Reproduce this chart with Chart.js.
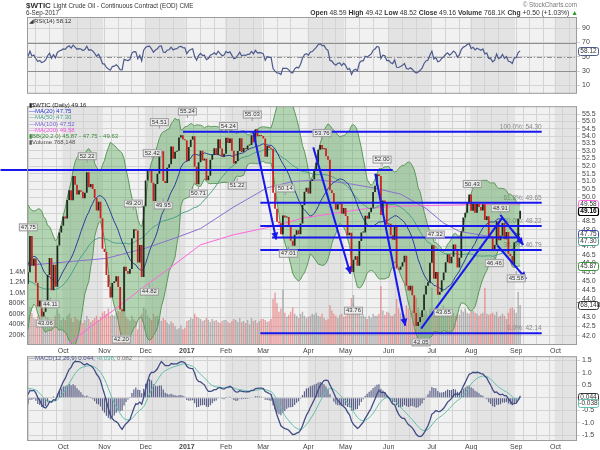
<!DOCTYPE html>
<html><head><meta charset="utf-8">
<script src="https://cdn.jsdelivr.net/npm/chart.js@4.4.0/dist/chart.umd.min.js"></script>
<style>
body{margin:0;background:#fff;width:600px;height:450px;overflow:hidden;position:relative;font-family:"Liberation Sans",Arial,sans-serif;}
canvas{position:absolute;left:0;}
.t{position:absolute;white-space:nowrap;line-height:1;color:#333;}
.lg{position:absolute;left:29px;white-space:nowrap;font-size:6px;line-height:1;}
b{font-weight:bold;}
</style></head><body>
<canvas id="rsi" width="600" height="100" style="top:0"></canvas>
<canvas id="main" width="600" height="260" style="top:100px"></canvas>
<canvas id="macd" width="600" height="100" style="top:350px"></canvas>

<div class="t" style="left:26px;top:2px;font-size:8px;"><b>$WTIC</b> <span style="font-size:6.3px">Light Crude Oil - Continuous Contract (EOD) CME</span></div>
<div class="t" style="left:26px;top:10px;font-size:6.3px;">6-Sep-2017</div>
<div class="t" style="right:23px;top:2px;font-size:6.3px;color:#777;">&#169; StockCharts.com</div>
<div class="t" style="right:22px;top:10px;font-size:6.8px;"><b>Open</b> 48.59 <b>High</b> 49.42 <b>Low</b> 48.52 <b>Close</b> 49.16 <b>Volume</b> 768.1K <b>Chg</b> +0.50 (+1.03%) <span style="color:#2a9a2a">&#9650;</span></div>

<div class="lg" style="top:18px;color:#333;">&#9698;RSI(14) 58.12</div>

<div class="lg" style="top:102px;color:#222;">&#9646;$WTIC (Daily) 49.16</div>
<div class="lg" style="top:108.2px;color:#2233cc;">&#8212;MA(20) 47.75</div>
<div class="lg" style="top:114.4px;color:#4aa08a;">&#8212;MA(50) 47.30</div>
<div class="lg" style="top:120.6px;color:#7a5fd0;">&#8212;MA(100) 47.52</div>
<div class="lg" style="top:126.8px;color:#ee55dd;">&#8212;MA(200) 49.58</div>
<div class="lg" style="top:133px;color:#3a8a3a;">&#9646;BB(20,2.0) 45.87 - 47.75 - 49.63</div>
<div class="lg" style="top:139.2px;color:#555;">&#9646;Volume 768,148</div>

<div class="lg" style="top:355px;color:#404d85;">&#8212;MACD(12,26,9) 0.044, <span style="color:#4fb0a0">-0.038</span>, <span style="color:#777">0.082</span></div>

<script>
// daily closes, Sep 7 2016 .. Sep 6 2017 (trading days)
const priorCloses = [47.64,46.33,47.85,49.88,48.33,48.99,46.60,47.43,45.14,45.41,
  44.76,46.80,44.75,45.68,45.95,45.24,44.65,44.94,44.75,44.19,
  42.40,42.92,41.92,41.14,41.60,40.06,39.51,40.83,41.93,41.80,
  43.02,42.77,41.71,43.49,44.49,45.74,46.58,46.79,48.22,48.52,
  47.05,48.10,46.77,47.33,47.64,46.98,46.35,44.70,43.16,44.44,44.83];
const closes = [
  45.50,47.62,45.88,46.29,44.90,43.58,43.91,43.03,43.30,43.85,45.34,46.32,44.48,45.93,44.67,47.05,47.83,48.24,
  48.81,48.69,49.83,50.44,49.81,51.35,50.79,50.18,50.44,50.35,49.94,50.29,51.60,50.63,50.85,50.52,49.96,49.18,49.72,48.70,46.86,
  46.67,45.34,44.66,44.07,44.89,44.98,45.27,44.66,43.41,43.32,45.81,45.57,45.42,45.69,47.49,48.03,47.96,46.06,47.08,45.23,49.44,
  51.06,51.68,51.79,50.93,49.77,50.84,51.50,52.83,52.98,51.04,50.90,51.90,52.12,53.30,52.49,52.95,53.02,53.90,54.06,53.77,53.72,
  52.33,53.26,53.76,53.99,51.96,50.82,52.25,53.01,52.37,52.48,51.08,51.37,52.42,52.75,53.18,52.75,53.78,53.17,52.63,52.81,
  53.88,53.54,53.83,53.01,52.17,52.34,53.00,53.86,52.93,53.20,53.11,53.36,53.40,54.06,53.59,54.45,53.99,54.05,54.01,
  53.83,52.61,53.33,53.20,53.14,50.28,49.28,48.49,48.40,47.72,48.86,48.75,48.78,48.22,47.34,47.04,47.70,47.97,47.73,48.37,49.51,50.35,50.60,
  50.24,51.03,51.15,51.70,52.24,53.08,53.40,53.11,53.18,52.65,52.41,50.44,50.27,49.62,49.23,49.56,49.62,48.97,49.33,
  48.84,47.66,47.82,45.52,46.22,46.43,45.88,47.33,47.83,47.84,48.85,48.66,49.07,49.35,50.33,50.73,51.47,51.36,48.90,49.80,49.66,48.32,
  48.36,47.66,47.40,48.19,45.72,45.64,45.83,46.08,46.46,44.73,44.46,44.74,44.20,43.23,42.53,42.74,43.01,43.38,44.24,44.74,44.93,46.04,
  47.07,45.13,45.52,44.23,44.40,45.04,45.49,46.08,46.54,46.02,46.40,47.12,46.79,45.77,46.34,47.89,48.75,49.04,49.71,50.17,
  49.16,49.59,49.03,49.58,49.39,49.17,49.56,48.59,48.82,47.59,47.55,46.78,47.09,48.51,47.37,47.64,48.41,47.43,47.87,46.57,46.44,45.96,47.23,
  47.29,48.66,49.16];
const volumesK = [
  560,720,610,520,500,560,440,650,430,480,530,500,470,430,560,680,600,480,
  520,480,560,600,520,440,540,500,470,480,420,480,560,500,440,480,520,560,480,540,620,
  650,600,700,560,580,560,620,650,640,700,660,540,500,470,560,500,460,300,520,600,720,
  680,560,520,480,600,540,560,500,460,520,480,430,400,450,420,360,300,320,380,300,330,
  460,480,520,500,600,540,520,500,460,480,520,480,440,500,460,480,440,420,460,480,
  480,440,420,460,500,480,440,520,440,460,420,480,400,520,460,480,420,460,500,
  500,480,440,460,500,880,1000,800,640,700,1060,620,540,580,640,720,600,560,520,600,640,560,520,
  540,560,600,580,620,560,540,600,520,480,500,760,660,600,560,520,580,600,540,
  560,620,580,900,960,700,620,640,560,580,540,500,560,520,600,560,560,600,1130,660,580,640,
  620,560,560,600,880,700,620,560,580,760,700,620,660,760,900,720,620,560,600,660,580,700,
  1100,700,640,620,560,600,620,640,600,560,560,620,560,600,580,680,640,700,620,600,
  640,660,620,600,560,600,620,1100,600,580,600,620,580,640,540,560,600,560,500,620,700,720,680,
  620,1020,768.148];

const monthStarts = [18,39,60,81,101,120,143,162,184,206,226,249,269];
const monthLabels = ['Oct','Nov','Dec','2017','Feb','Mar','Apr','May','Jun','Jul','Aug','Sep','Oct'];
const priceTicks = [42.0,42.5,43.0,43.5,44.0,44.5,45.0,45.5,46.0,46.5,47.0,47.5,48.0,48.5,49.0,49.5,50.0,50.5,51.0,51.5,52.0,52.5,53.0,53.5,54.0,54.5,55.0,55.5];
const volTicksK = [200,400,600,800,1000,1200,1400];
const rsiTicks = [10,30,50,70,90];
const macdTicks = [-1.5,-1.0,-0.5,0,0.5,1.0,1.5];

const ma100Days = [0,20,40,60,75,88,105,122,135,148,162,176,190,203,212,220,235,251];
const ma100Vals = [45.9,46.1,46.3,46.9,47.5,48.07,49.4,50.6,51.0,51.1,50.9,50.6,50.2,49.3,48.4,47.9,47.6,47.52];
const ma200Days = [14,20,32,44,57,73,88,105,125,140,156,173,190,210,230,251];
const ma200Vals = [40.9,41.5,42.5,43.4,44.5,45.8,47.1,47.7,48.2,48.7,49.0,49.3,49.45,49.5,49.55,49.58];

const fibLevels = [54.30,49.65,48.22,46.79,42.14];
const fibNames = ['100.0%','61.8%','50.0%','38.2%','0.0%'];
const fibFrom = [79,118.5,118.5,118.5,118.5];
const fibTo = 262;
const extraLines = [[51.75,-14,186],[47.54,124.5,251]];
const trendLines = [[114.9,54.30,126.6,47.41,1],[145.5,53.24,164.4,45.41,1],[177.1,51.5,192.4,42.54,1],
  [200.5,42.38,241.9,48.72,0],[240.9,48.9,252.6,47.1,1],[239.3,47.07,254.1,45.12,1]];
const highNotes = [[0.2,47.75],[30.2,52.22],[53.7,49.20],[63.4,52.42],[67,54.51],[81.3,55.24],[102.2,54.24],
  [114.4,55.03],[131.2,50.14],[150,53.76],[180.6,52.00],[207.7,47.32],[226.6,50.43],[240.9,48.91]];
const lowNotes = [[8.8,43.06],[11.4,44.11],[47.6,42.20],[61.9,44.82],[69,49.95],[86.9,50.71],[106.7,51.22],
  [132.8,47.01],[166,43.76],[200.5,42.05],[211.8,43.65],[237.8,46.46],[249,45.58]];
const lastVals = {close:49.16, ma20:47.75, ma50:47.30, ma200:49.58, bbLow:45.87, volK:768.148, rsi:58.12, macd:0.044, signal:-0.038};

// ---- indicators
const all = priorCloses.concat(closes);
const off = priorCloses.length;
const prevClose = i => all[off + i - 1];
function smaAt(n, j) { let s = 0; for (let k = j - n + 1; k <= j; k++) s += all[k]; return s / n; }
function ema(arr, n) { const a = 2 / (n + 1); const out = [arr[0]]; for (let i = 1; i < arr.length; i++) out.push(a * arr[i] + (1 - a) * out[i - 1]); return out; }

const ma20 = [], ma50 = [], bbUp = [], bbLo = [];
closes.forEach((c, i) => {
  const j = off + i, m = smaAt(20, j);
  let v = 0; for (let k = j - 19; k <= j; k++) v += (all[k] - m) ** 2;
  const sd = Math.sqrt(v / 20);
  ma20.push({x: i, y: m}); bbUp.push({x: i, y: m + 2 * sd}); bbLo.push({x: i, y: m - 2 * sd});
  ma50.push({x: i, y: smaAt(50, j)});
});
const e12 = ema(all, 12), e26 = ema(all, 26);
const macdAll = all.map((v, i) => e12[i] - e26[i]);
const sigAll = ema(macdAll, 9);
const macdPts = [], sigPts = [], histPts = [];
closes.forEach((c, i) => { const j = off + i; macdPts.push({x: i, y: macdAll[j]}); sigPts.push({x: i, y: sigAll[j]}); histPts.push({x: i, y: macdAll[j] - sigAll[j]}); });
const rsiPts = [];
let ag = 0, al = 0;
for (let j = 1; j < all.length; j++) {
  const ch = all[j] - all[j - 1], g = Math.max(ch, 0), l = Math.max(-ch, 0);
  if (j <= 14) { ag += g / 14; al += l / 14; } else { ag = (ag * 13 + g) / 14; al = (al * 13 + l) / 14; }
  if (j >= off) rsiPts.push({x: j - off, y: al === 0 ? 100 : 100 - 100 / (1 + ag / al)});
}

// ---- shared bits
Chart.defaults.font.family = '"Liberation Sans", Arial, sans-serif';
Chart.defaults.color = '#444';
const gridDays = [4, 11];
monthStarts.forEach((m, k) => { const n = k + 1 < monthStarts.length ? monthStarts[k + 1] : 281; for (let d = m; d < n - 3; d += 7) gridDays.push(d); });

function xScale(labelH) {
  return {type: 'linear', min: -0.5, max: 280, offset: false,
    afterBuildTicks: s => { s.ticks = gridDays.map(v => ({value: v})); },
    grid: {color: '#d3d3d3', drawTicks: false},
    border: {display: false},
    ticks: {display: labelH > 0, autoSkip: false, maxRotation: 0, padding: 2, color: '#444',
      font: c => ({size: 7, weight: c.tick && c.tick.label === '2017' ? 'bold' : 'normal'}),
      callback: v => { const k = monthStarts.indexOf(v); return k >= 0 ? monthLabels[k] : ''; }},
    afterFit: s => { s.height = labelH; }};
}
function yRight(min, max, ticks, fmt, extra) {
  return Object.assign({position: 'right', min: min, max: max,
    afterBuildTicks: s => { s.ticks = ticks.map(v => ({value: v})); },
    ticks: {callback: fmt, autoSkip: false, font: {size: 7}, color: '#444', padding: 2},
    grid: {color: '#d3d3d3', tickLength: 3},
    border: {display: false},
    afterFit: s => { s.width = 23; }}, extra || {});
}
const bands = {id: 'bands', beforeDraw(chart) {
  const {ctx, chartArea: a, scales: {x}} = chart;
  const edges = [x.min].concat(monthStarts, [x.max]);
  ctx.save();
  for (let k = 0; k < edges.length - 1; k++) {
    const x1 = Math.max(a.left, x.getPixelForValue(edges[k] - 0.5)), x2 = Math.min(a.right, x.getPixelForValue(edges[k + 1] - 0.5));
    ctx.fillStyle = k % 2 ? '#e3e3e3' : '#f1f1f1';
    ctx.fillRect(x1, a.top, x2 - x1, a.bottom - a.top);
  }
  ctx.restore();
}};
function frame(chart) {
  const {ctx, chartArea: a} = chart;
  ctx.save(); ctx.strokeStyle = '#9c9c9c'; ctx.lineWidth = 1;
  ctx.strokeRect(a.left + 0.5, a.top + 0.5, a.right - a.left - 1, a.bottom - a.top - 1);
  ctx.restore();
}
function valueBox(chart, y, text, border, bold) {
  const ctx = chart.ctx, x = chart.chartArea.right + 1, w = 599 - x, h = 8;
  ctx.save();
  ctx.fillStyle = '#fff'; ctx.strokeStyle = border; ctx.lineWidth = bold ? 1.2 : 1;
  ctx.beginPath(); ctx.roundRect(x + 0.5, Math.round(y - h / 2) + 0.5, w - 1, h, 2); ctx.fill(); ctx.stroke();
  ctx.fillStyle = bold ? '#000' : '#333';
  ctx.font = (bold ? 'bold ' : '') + '6.5px "Liberation Sans", Arial, sans-serif';
  ctx.textAlign = 'center'; ctx.textBaseline = 'middle';
  ctx.fillText(text, x + w / 2, Math.round(y) + 0.5);
  ctx.restore();
}
const base = {animation: false, responsive: false, events: [],
  plugins: {legend: {display: false}, tooltip: {enabled: false}}};

// ---- RSI panel
new Chart(document.getElementById('rsi'), {
  type: 'line',
  data: {datasets: [{data: rsiPts, borderColor: '#4c5a8c', borderWidth: 1.2, pointRadius: 0}]},
  options: Object.assign({}, base, {
    layout: {padding: {left: 27, right: 0, top: 17, bottom: 1}, autoPadding: false},
    scales: {x: xScale(0), y: yRight(-1.8, 105.7, rsiTicks, v => String(v))}}),
  plugins: [bands, {id: 'rsiLines', beforeDatasetsDraw(chart) {
    const {ctx, chartArea: a, scales: {y}} = chart;
    ctx.save(); ctx.strokeStyle = '#8f8f8f'; ctx.lineWidth = 1;
    [70, 30, 50].forEach(v => {
      ctx.setLineDash(v === 50 ? [5, 2, 1, 2] : []);
      const yy = Math.round(y.getPixelForValue(v)) + 0.5;
      ctx.beginPath(); ctx.moveTo(a.left, yy); ctx.lineTo(a.right, yy); ctx.stroke();
    });
    ctx.restore();
  }, afterDraw(chart) {
    frame(chart);
    valueBox(chart, chart.scales.y.getPixelForValue(lastVals.rsi), lastVals.rsi.toFixed(2), '#4c5a8c');
  }}]
});

// ---- price panel
const candleData = closes.map((c, i) => ({x: i, y: [prevClose(i), c]}));
const upDown = closes.map((c, i) => c >= prevClose(i));
const line = (data, color, order) => ({type: 'line', yAxisID: 'y', data: data, borderColor: color, borderWidth: 1, pointRadius: 0, fill: false, order: order});
new Chart(document.getElementById('main'), {
  type: 'bar',
  data: {datasets: [
    {type: 'bar', yAxisID: 'yv', data: volumesK.map((v, i) => ({x: i, y: v})), grouped: false,
      backgroundColor: upDown.map(u => u ? 'rgba(140,140,140,0.6)' : 'rgba(230,105,105,0.6)'),
      barPercentage: 0.75, categoryPercentage: 1, order: 10},
    {type: 'line', yAxisID: 'y', data: bbUp, fill: '+1', backgroundColor: 'rgba(70,160,70,0.36)', borderColor: '#5a985a', borderWidth: 1, pointRadius: 0, order: 9},
    {type: 'line', yAxisID: 'y', data: bbLo, fill: false, borderColor: '#5a985a', borderWidth: 1, pointRadius: 0, order: 8},
    line(ma200Days.map((d, k) => ({x: d, y: ma200Vals[k]})), '#ff66e0', 7),
    line(ma100Days.map((d, k) => ({x: d, y: ma100Vals[k]})), '#8a6fd0', 6),
    line(ma50, '#4aa08a', 5),
    line(ma20, '#2a3f9a', 4),
    {type: 'bar', yAxisID: 'y', data: candleData, grouped: false, minBarLength: 1,
      backgroundColor: upDown.map(u => u ? '#1e2a1e' : '#cc2020'),
      barPercentage: 0.9, categoryPercentage: 1, order: 1}
  ]},
  options: Object.assign({}, base, {
    layout: {padding: {left: 0, right: 0, top: 1, bottom: 0}, autoPadding: false},
    scales: {
      x: xScale(15),
      y: yRight(41.52, 56.07, priceTicks, v => Number(v).toFixed(1), {type: 'logarithmic'}),
      yv: {position: 'left', min: 0, max: 4580,
        afterBuildTicks: s => { s.ticks = volTicksK.map(v => ({value: v})); },
        ticks: {callback: v => v >= 1000 ? (v / 1000).toFixed(1) + 'M' : v + 'K', autoSkip: false, font: {size: 7}, color: '#444', padding: 2},
        grid: {drawOnChartArea: false, drawTicks: false}, border: {display: false},
        afterFit: s => { s.width = 27; }}
    }}),
  plugins: [bands, {id: 'annot',
    beforeDatasetsDraw(chart) {
      const {ctx, scales: {x, y}} = chart;
      ctx.save(); ctx.fillStyle = '#8a8a8a'; ctx.font = '6.5px "Liberation Sans", Arial, sans-serif';
      ctx.textAlign = 'right'; ctx.textBaseline = 'bottom';
      fibLevels.forEach((p, k) => ctx.fillText(fibNames[k] + ': ' + p.toFixed(2), x.getPixelForValue(fibTo), y.getPixelForValue(p) - 1.5));
      ctx.restore();
    },
    afterDatasetsDraw(chart) {
      const {ctx, scales: {x, y}} = chart;
      ctx.save();
      ctx.strokeStyle = '#1818ee'; ctx.fillStyle = '#1818ee'; ctx.lineWidth = 2;
      const hl = fibLevels.map((p, k) => [p, fibFrom[k], fibTo]).concat(extraLines);
      hl.forEach(([p, d0, d1]) => {
        const yy = y.getPixelForValue(p);
        ctx.beginPath(); ctx.moveTo(x.getPixelForValue(d0), yy); ctx.lineTo(x.getPixelForValue(d1), yy); ctx.stroke();
      });
      trendLines.forEach(([d0, p0, d1, p1, arrow]) => {
        const x0 = x.getPixelForValue(d0), y0 = y.getPixelForValue(p0), x1 = x.getPixelForValue(d1), y1 = y.getPixelForValue(p1);
        ctx.beginPath(); ctx.moveTo(x0, y0); ctx.lineTo(x1, y1); ctx.stroke();
        if (arrow) {
          const ang = Math.atan2(y1 - y0, x1 - x0), L = 7, W = 3.5;
          ctx.beginPath(); ctx.moveTo(x1, y1);
          ctx.lineTo(x1 - L * Math.cos(ang) + W * Math.sin(ang), y1 - L * Math.sin(ang) - W * Math.cos(ang));
          ctx.lineTo(x1 - L * Math.cos(ang) - W * Math.sin(ang), y1 - L * Math.sin(ang) + W * Math.cos(ang));
          ctx.closePath(); ctx.fill();
        }
      });
      ctx.font = '6px "Liberation Sans", Arial, sans-serif'; ctx.textAlign = 'center'; ctx.textBaseline = 'middle';
      const note = (d, p, dir) => {
        const cx = x.getPixelForValue(d), py = y.getPixelForValue(p), cy = py + dir * 7, t = p.toFixed(2);
        const w = ctx.measureText(t).width + 4;
        ctx.strokeStyle = '#9a9a9a'; ctx.lineWidth = 1;
        ctx.beginPath(); ctx.moveTo(cx, py); ctx.lineTo(cx, cy - dir * 3.5); ctx.stroke();
        ctx.fillStyle = 'rgba(238,238,238,0.92)';
        ctx.fillRect(cx - w / 2, cy - 3.5, w, 7); ctx.strokeRect(cx - w / 2 + 0.5, cy - 3.5 + 0.5, w - 1, 7);
        ctx.fillStyle = '#333'; ctx.fillText(t, cx, cy + 0.5);
      };
      highNotes.forEach(([d, p]) => note(d, p, -1));
      lowNotes.forEach(([d, p]) => note(d, p, 1));
      ctx.restore();
    },
    afterDraw(chart) {
      frame(chart);
      const y = chart.scales.y, yv = chart.scales.yv;
      valueBox(chart, y.getPixelForValue(lastVals.ma200), lastVals.ma200.toFixed(2), '#ff66e0');
      valueBox(chart, y.getPixelForValue(lastVals.close), lastVals.close.toFixed(2), '#000', true);
      valueBox(chart, y.getPixelForValue(lastVals.ma20), lastVals.ma20.toFixed(2), '#3344bb');
      valueBox(chart, y.getPixelForValue(lastVals.ma50), lastVals.ma50.toFixed(2), '#4aa08a');
      valueBox(chart, y.getPixelForValue(lastVals.bbLow), lastVals.bbLow.toFixed(2), '#3a9a3a');
      valueBox(chart, yv.getPixelForValue(lastVals.volK), Math.round(lastVals.volK * 1000).toLocaleString('en-US'), '#333');
    }}]
});

// ---- MACD panel
new Chart(document.getElementById('macd'), {
  type: 'bar',
  data: {datasets: [
    {type: 'bar', data: histPts, grouped: false, backgroundColor: '#5a6088', barPercentage: 0.6, categoryPercentage: 1, order: 3},
    {type: 'line', data: sigPts, borderColor: '#62bfae', borderWidth: 1, pointRadius: 0, order: 2},
    {type: 'line', data: macdPts, borderColor: '#404d85', borderWidth: 1.3, pointRadius: 0, order: 1}
  ]},
  options: Object.assign({}, base, {
    layout: {padding: {left: 27, right: 0, top: 4, bottom: 0}, autoPadding: false},
    scales: {x: xScale(9), y: yRight(-1.73, 1.67, macdTicks, v => Number(v).toFixed(1))}}),
  plugins: [bands, {id: 'macdBoxes', afterDraw(chart) {
    frame(chart);
    const y = chart.scales.y, y1 = y.getPixelForValue(lastVals.macd);
    valueBox(chart, y1, lastVals.macd.toFixed(3), '#333');
    valueBox(chart, Math.max(y.getPixelForValue(lastVals.signal), y1 + 6), lastVals.signal.toFixed(3), '#62bfae');
  }}]
});
</script>
</body></html>
